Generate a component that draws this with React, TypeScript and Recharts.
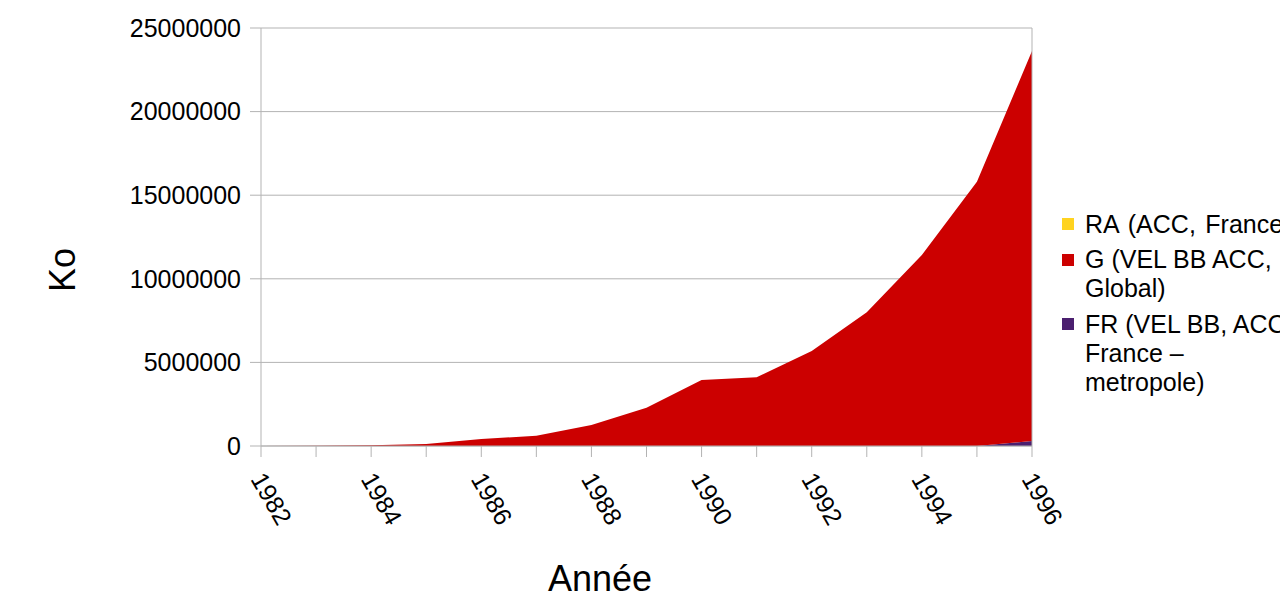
import React from 'react';
import {
  AreaChart,
  Area,
  XAxis,
  YAxis,
  CartesianGrid,
  Legend,
  Label,
  ReferenceLine,
} from 'recharts';

// years on the x axis
const years = [1982, 1983, 1984, 1985, 1986, 1987, 1988, 1989, 1990, 1991, 1992, 1993, 1994, 1995, 1996];

// Ko (stacked: FR at the bottom, then G, then RA)
const frValues = [0, 0, 0, 0, 0, 0, 0, 0, 0, 0, 0, 0, 0, 0, 300000];
const gValues = [
  0, 10000, 40000, 120000, 420000, 610000, 1260000, 2290000, 3950000, 4110000,
  5680000, 8000000, 11430000, 15810000, 23320000,
];
const raValues = [0, 0, 0, 0, 0, 0, 0, 0, 0, 0, 0, 0, 0, 0, 0];

const yTicks = [0, 5000000, 10000000, 15000000, 20000000, 25000000];

const SERIES = [
  { key: 'ra', name: 'RA (ACC, France)', lines: ['RA (ACC, France)'], color: '#ffd320', wordSpacing: 2.5 },
  { key: 'g', name: 'G (VEL BB ACC, Global)', lines: ['G (VEL BB ACC,', 'Global)'], color: '#cc0000', wordSpacing: 0 },
  {
    key: 'fr',
    name: 'FR (VEL BB, ACC, France – metropole)',
    lines: ['FR (VEL BB, ACC,', 'France –', 'metropole)'],
    color: '#4b1f6f',
    wordSpacing: 0,
  },
];

const data = years.map((year, i) => ({
  year,
  fr: frValues[i],
  g: gValues[i],
  ra: raValues[i],
}));

const FONT = '"Liberation Sans", Arial, sans-serif';
const GRID = '#b3b3b3';

function YearTick(props: any) {
  const { x, y, payload } = props;
  if (payload.value % 2 !== 0) return null;
  const tx = x - 11;
  const ty = y + 22;
  return (
    <text
      x={tx}
      y={ty}
      transform={`rotate(60 ${tx} ${ty})`}
      textAnchor="start"
      fontSize={25}
      fontFamily={FONT}
      fill="#000"
    >
      {payload.value}
    </text>
  );
}

function LegendBox() {
  return (
    <div style={{ fontFamily: FONT, fontSize: 25, lineHeight: '29px', color: '#000', whiteSpace: 'pre' }}>
      {SERIES.map((s) => (
        <div key={s.key} style={{ display: 'flex', marginBottom: 6.5 }}>
          <div
            style={{
              width: 12,
              height: 12,
              background: s.color,
              marginTop: 8.5,
              marginRight: 11,
              flexShrink: 0,
            }}
          />
          <div style={{ wordSpacing: s.wordSpacing }}>
            {s.lines.map((l) => (
              <div key={l}>{l}</div>
            ))}
          </div>
        </div>
      ))}
    </div>
  );
}

export default function App() {
  return (
    <div
      style={{
        position: 'relative',
        width: 1280,
        height: 596,
        marginBottom: -8,
        overflow: 'hidden',
        background: '#fff',
      }}
    >
      <AreaChart
        width={1280}
        height={596}
        data={data}
        margin={{ top: 20, right: 256, bottom: 0, left: 0 }}
      >
        <CartesianGrid vertical={false} stroke={GRID} strokeWidth={1} />
        <XAxis
          dataKey="year"
          type="number"
          domain={[1982, 1996]}
          ticks={years}
          interval={0}
          height={158}
          tickSize={11}
          tickMargin={0}
          stroke={GRID}
          tick={<YearTick />}
        >
          <Label
            content={() => (
              <text
                x={592}
                y={570}
                textAnchor="middle"
                dominantBaseline="central"
                fontSize={36}
                fontFamily={FONT}
                fill="#000"
              >
                Année
              </text>
            )}
          />
        </XAxis>
        <YAxis
          domain={[0, 25000000]}
          ticks={yTicks}
          width={253}
          tickSize={11}
          tickMargin={9}
          stroke={GRID}
          tick={{ fontSize: 25, fontFamily: FONT, fill: '#000' }}
        >
          <Label
            content={() => (
              <text
                x={54}
                y={262}
                transform="rotate(-90 54 262)"
                textAnchor="middle"
                dominantBaseline="central"
                fontSize={36}
                fontFamily={FONT}
                fill="#000"
              >
                Ko
              </text>
            )}
          />
        </YAxis>
        <ReferenceLine x={1996} stroke={GRID} />
        <Legend
          layout="horizontal"
          align="center"
          verticalAlign="middle"
          wrapperStyle={{ left: 1054, top: 201.5, width: 300 }}
          content={() => <LegendBox />}
        />
        <Area
          type="linear"
          dataKey="fr"
          name={SERIES[2].name}
          stackId="1"
          stroke="none"
          fill={SERIES[2].color}
          fillOpacity={1}
          isAnimationActive={false}
        />
        <Area
          type="linear"
          dataKey="g"
          name={SERIES[1].name}
          stackId="1"
          stroke="none"
          fill={SERIES[1].color}
          fillOpacity={1}
          isAnimationActive={false}
        />
        <Area
          type="linear"
          dataKey="ra"
          name={SERIES[0].name}
          stackId="1"
          stroke="none"
          fill={SERIES[0].color}
          fillOpacity={1}
          isAnimationActive={false}
        />
      </AreaChart>
    </div>
  );
}
